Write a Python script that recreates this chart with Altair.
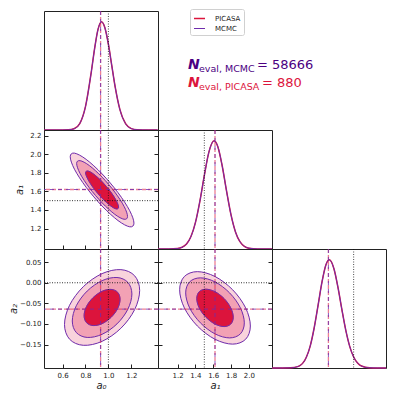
import altair as alt
import pandas as pd

# ---------------- colours ----------------
RED = "#DC143C"
PURPLE = "#6F2DAD"
INDIGO = "#4B0082"
FILL_OUTER = "#F9D3DC"
FILL_MID = "#F2A1B4"
FILL_INNER = "#DC143C"

# ---------------- axes ----------------
A0_DOM = [0.438, 1.433]
A1_DOM = [0.98, 2.26]
A2_DOM = [-0.207, 0.082]
D_DOM = [0, 1.1]

a0_ticks = [0.6, 0.8, 1.0, 1.2]
a1_ticks = [1.2, 1.4, 1.6, 1.8, 2.0]
a1_yticks = [1.2, 1.4, 1.6, 1.8, 2.0, 2.2]
a2_yticks = [-0.15, -0.10, -0.05, 0.0, 0.05]
a2_xticks = [-0.1, 0.0]

# true values (dotted) and estimates (dashed)
truth = [1.0, 1.5, 0.0]
est_picasa = [0.932, 1.62, -0.064]
est_mcmc = [0.932, 1.62, -0.064]

series = ["PICASA", "MCMC"]

# ---------------- 1D marginals ----------------
m0_x = [0.44, 0.55, 0.60, 0.65, 0.70, 0.75, 0.80, 0.85, 0.88, 0.91, 0.94, 0.97, 1.00, 1.03, 1.06, 1.10, 1.15, 1.20, 1.25, 1.30, 1.35, 1.43]
m0_y = [0.0, 0.0, 0.0001, 0.0014, 0.011, 0.0595, 0.216, 0.531, 0.755, 0.932, 1.0, 0.943, 0.793, 0.593, 0.394, 0.191, 0.058, 0.0127, 0.002, 0.0003, 0.0, 0.0]

m1_x = [0.98, 1.10, 1.20, 1.25, 1.30, 1.35, 1.40, 1.45, 1.50, 1.55, 1.61, 1.65, 1.70, 1.75, 1.80, 1.85, 1.90, 1.95, 2.00, 2.10, 2.26]
m1_y = [0.0, 0.0002, 0.0046, 0.0158, 0.046, 0.115, 0.244, 0.441, 0.679, 0.891, 1.0, 0.950, 0.772, 0.534, 0.315, 0.158, 0.068, 0.0247, 0.0077, 0.0005, 0.0]

m2_x = [-0.207, -0.18, -0.16, -0.14, -0.12, -0.11, -0.10, -0.09, -0.08, -0.07, -0.062, -0.05, -0.04, -0.03, -0.02, -0.01, 0.0, 0.01, 0.02, 0.04, 0.06, 0.082]
m2_y = [0.0, 0.0001, 0.0014, 0.0154, 0.099, 0.205, 0.372, 0.584, 0.80, 0.957, 1.0, 0.918, 0.75, 0.544, 0.35, 0.2, 0.102, 0.046, 0.018, 0.002, 0.0001, 0.0]

# ---------------- 2D contours (outer, mid, inner) ----------------
c01_outer_x = [1.223, 1.186, 1.084, 0.945, 0.806, 0.704, 0.667, 0.704, 0.806, 0.945, 1.084, 1.186]
c01_outer_y = [1.258, 1.392, 1.586, 1.788, 1.944, 2.011, 1.972, 1.838, 1.644, 1.442, 1.286, 1.219]
c01_mid_x = [1.167, 1.137, 1.056, 0.945, 0.834, 0.753, 0.723, 0.753, 0.834, 0.945, 1.056, 1.137]
c01_mid_y = [1.330, 1.438, 1.592, 1.753, 1.877, 1.930, 1.900, 1.792, 1.638, 1.477, 1.353, 1.300]
c01_inner_x = [1.089, 1.069, 1.017, 0.945, 0.873, 0.821, 0.801, 0.821, 0.873, 0.945, 1.017, 1.069]
c01_inner_y = [1.431, 1.500, 1.600, 1.704, 1.784, 1.819, 1.799, 1.730, 1.630, 1.526, 1.446, 1.411]

c02_outer_x = [1.273, 1.229, 1.109, 0.945, 0.781, 0.661, 0.617, 0.661, 0.781, 0.945, 1.109, 1.229]
c02_outer_y = [-0.0186, 0.0170, 0.0319, 0.0222, -0.0095, -0.0547, -0.1014, -0.137, -0.1519, -0.1422, -0.1105, -0.0653]
c02_mid_x = [1.205, 1.170, 1.075, 0.945, 0.815, 0.720, 0.685, 0.720, 0.815, 0.945, 1.075, 1.170]
c02_mid_y = [-0.0272, 0.0009, 0.0128, 0.0051, -0.0201, -0.0558, -0.0928, -0.1209, -0.1328, -0.1251, -0.0999, -0.0642]
c02_inner_x = [1.102, 1.081, 1.023, 0.945, 0.867, 0.809, 0.788, 0.809, 0.867, 0.945, 1.023, 1.081]
c02_inner_y = [-0.0402, -0.0232, -0.0161, -0.0207, -0.0359, -0.0575, -0.0798, -0.0968, -0.1039, -0.0993, -0.0841, -0.0625]

c12_outer_x = [2.017, 1.964, 1.818, 1.620, 1.422, 1.276, 1.223, 1.276, 1.422, 1.620, 1.818, 1.964]
c12_outer_y = [-0.105, -0.061, -0.017, 0.0152, 0.027, 0.0152, -0.017, -0.061, -0.105, -0.1372, -0.149, -0.1372]
c12_mid_x = [1.949, 1.905, 1.784, 1.620, 1.456, 1.335, 1.291, 1.335, 1.456, 1.620, 1.784, 1.905]
c12_mid_y = [-0.0974, -0.061, -0.0246, 0.0021, 0.0119, 0.0021, -0.0246, -0.061, -0.0974, -0.1241, -0.1339, -0.1241]
c12_inner_x = [1.825, 1.797, 1.722, 1.620, 1.518, 1.443, 1.415, 1.443, 1.518, 1.620, 1.722, 1.797]
c12_inner_y = [-0.0837, -0.061, -0.0383, -0.0217, -0.0156, -0.0217, -0.0383, -0.061, -0.0837, -0.1003, -0.1064, -0.1003]

# annotation text pieces
ann_n = ["N", "N"]
ann_sub = ["eval, MCMC", "eval, PICASA"]
ann_val = ["= 58666", "= 880"]
ann_col = [INDIGO, RED]

# ---------------- layout ----------------
W, H = 114, 119
FONT = "DejaVu Sans"
INK = "#222222"


def sc(dom):
    return alt.Scale(domain=dom, nice=False, zero=False)


def ax(orient, vals, fmt, labels=False, title=None, title_pad=2):
    kw = dict(orient=orient, values=vals, format=fmt, labels=labels, domain=False, grid=False,
              ticks=True, tickSize=4, tickColor=INK, tickWidth=1, offset=-4,
              labelFont=FONT, labelFontSize=7, labelColor=INK, labelPadding=3,
              titleFont=FONT, titleFontSize=10, titleFontStyle="italic", titleFontWeight="normal",
              titleColor=INK, titlePadding=title_pad, zindex=2)
    if title:
        kw["title"] = title
    else:
        kw["title"] = None
    return alt.Axis(**kw)


def est_rules(df, enc_x=None, enc_y=None):
    out = []
    for col, width, dash, op in [(RED, 1.3, [4, 2], 0.55), (PURPLE, 1.0, [4, 4], 0.8)]:
        ch = alt.Chart(df).mark_rule(color=col, strokeWidth=width, strokeDash=dash, opacity=op)
        if enc_x is not None:
            ch = ch.encode(x=enc_x)
        else:
            ch = ch.encode(y=enc_y)
        out.append(ch)
    return alt.layer(*out)


def vline(value, xdom, kind):
    df = pd.DataFrame({"v": [value]})
    xenc = alt.X("v:Q", scale=sc(xdom), axis=None)
    if kind == "truth":
        return alt.Chart(df).mark_rule(color="#111111", strokeWidth=1, strokeDash=[1, 1.5], opacity=0.75).encode(x=xenc)
    return est_rules(df, enc_x=xenc)


def hline(value, ydom, kind, axis=None):
    df = pd.DataFrame({"v": [value]})
    if kind == "truth":
        return alt.Chart(df).mark_rule(color="#111111", strokeWidth=1, strokeDash=[1, 1.5], opacity=0.85).encode(
            y=alt.Y("v:Q", scale=sc(ydom), axis=axis))
    return est_rules(df, enc_y=alt.Y("v:Q", scale=sc(ydom), axis=None))


def marginal(xs, ys, xdom, ticks, fmt, pidx, labels=False, title=None, legend=False):
    rows = []
    for s in series:
        for x, y in zip(xs, ys):
            rows.append({"x": x, "y": y, "series": s})
    df = pd.DataFrame(rows)
    xaxis = ax("bottom", ticks, fmt, labels=labels, title=title)
    if legend:
        lg = alt.Legend(title=None, orient="none", legendX=146, legendY=-2,
                        symbolType="stroke", symbolSize=121,
                        symbolStrokeWidth=alt.ExprRef(expr="datum.value === 'PICASA' ? 4 : 1"),
                        labelFont=FONT, labelFontSize=7, labelColor=INK,
                        labelOffset=9, padding=3, rowPadding=0.5,
                        strokeColor="#d0d0d0", fillColor="white", cornerRadius=2)
        color = alt.Color("series:N", scale=alt.Scale(domain=series, range=[RED, PURPLE]), legend=lg)
    else:
        color = alt.Color("series:N", scale=alt.Scale(domain=series, range=[RED, PURPLE]), legend=None)
    line = alt.Chart(df).mark_line(interpolate="monotone").encode(
        x=alt.X("x:Q", scale=sc(xdom), axis=xaxis),
        y=alt.Y("y:Q", scale=sc(D_DOM), axis=None),
        color=color,
        strokeWidth=alt.StrokeWidth("series:N", scale=alt.Scale(domain=series, range=[1.5, 1.0]), legend=None),
    )
    return [line, vline(truth[pidx], xdom, "truth"), vline(est_picasa[pidx], xdom, "est")]


def contour(cx, cy, xdom, ydom, pi, pj, xaxis, yaxis, rticks):
    levels = [(cx[0], cy[0], FILL_OUTER, "outer"), (cx[1], cy[1], FILL_MID, "mid"), (cx[2], cy[2], FILL_INNER, "inner")]
    layers = []
    all_rows = []
    for k, (xs, ys, col, name) in enumerate(levels):
        df = pd.DataFrame({"x": xs, "y": ys, "i": list(range(len(xs)))})
        all_rows.append(df.assign(level=name))
        layers.append(alt.Chart(df).mark_line(interpolate="cardinal-closed", fill=col, stroke=col,
                                              strokeWidth=0.6).encode(
            x=alt.X("x:Q", scale=sc(xdom), axis=xaxis if k == 0 else None),
            y=alt.Y("y:Q", scale=sc(ydom), axis=yaxis if k == 0 else None),
            order=alt.Order("i:Q"),
        ))
    dfl = pd.concat(all_rows)
    layers.append(alt.Chart(dfl).mark_line(interpolate="cardinal-closed", color=PURPLE, strokeWidth=1).encode(
        x=alt.X("x:Q", scale=sc(xdom), axis=None),
        y=alt.Y("y:Q", scale=sc(ydom), axis=None),
        detail="level:N",
        order=alt.Order("i:Q"),
    ))
    layers.append(vline(truth[pi], xdom, "truth"))
    layers.append(vline(est_picasa[pi], xdom, "est"))
    layers.append(hline(truth[pj], ydom, "truth", axis=ax("right", rticks, ".2f")))
    layers.append(hline(est_picasa[pj], ydom, "est"))
    return alt.layer(*layers).resolve_axis(x="independent", y="independent").properties(width=W, height=H)


# ---- top-left marginal with legend and annotation ----
m0_layers = marginal(m0_x, m0_y, A0_DOM, a0_ticks, ".1f", 0, legend=True)
ann_layers = []
for k in range(2):
    base_y = 58 + 18 * k
    d1 = pd.DataFrame({"t": [ann_n[k]]})
    d2 = pd.DataFrame({"t": [ann_sub[k]]})
    d3 = pd.DataFrame({"t": [ann_val[k]]})
    ann_layers.append(alt.Chart(d1).mark_text(font=FONT, fontSize=14, fontStyle="italic", fontWeight="bold",
                                              align="left", baseline="alphabetic", color=ann_col[k]).encode(
        text="t:N", x=alt.value(144), y=alt.value(base_y)))
    ann_layers.append(alt.Chart(d2).mark_text(font=FONT, fontSize=9.5, align="left", baseline="alphabetic",
                                              color=ann_col[k]).encode(
        text="t:N", x=alt.value(155), y=alt.value(base_y + 2.5)))
    ann_layers.append(alt.Chart(d3).mark_text(font=FONT, fontSize=13, align="left", baseline="alphabetic",
                                              color=ann_col[k]).encode(
        text="t:N", x=alt.value(213 if k == 0 else 218), y=alt.value(base_y)))
m0 = alt.layer(*m0_layers, *ann_layers).properties(width=W, height=H)

m1 = alt.layer(*marginal(m1_x, m1_y, A1_DOM, a1_ticks, ".1f", 1)).properties(width=W, height=H)
m2 = alt.layer(*marginal(m2_x, m2_y, A2_DOM, a2_xticks, ".1f", 2, labels=True, title="a₂")).properties(width=W, height=H)

c01 = contour([c01_outer_x, c01_mid_x, c01_inner_x], [c01_outer_y, c01_mid_y, c01_inner_y], A0_DOM, A1_DOM, 0, 1,
              ax("bottom", a0_ticks, ".1f"), ax("left", a1_yticks, ".1f", labels=True, title="a₁", title_pad=5),
              a1_yticks)
c02 = contour([c02_outer_x, c02_mid_x, c02_inner_x], [c02_outer_y, c02_mid_y, c02_inner_y], A0_DOM, A2_DOM, 0, 2,
              ax("bottom", a0_ticks, ".1f", labels=True, title="a₀"),
              ax("left", a2_yticks, ".2f", labels=True, title="a₂", title_pad=1), a2_yticks)
c12 = contour([c12_outer_x, c12_mid_x, c12_inner_x], [c12_outer_y, c12_mid_y, c12_inner_y], A1_DOM, A2_DOM, 1, 2,
              ax("bottom", a1_ticks, ".1f", labels=True, title="a₁"), ax("left", a2_yticks, ".2f"), a2_yticks)


def blank():
    return alt.Chart(pd.DataFrame({"t": [""]})).mark_text(fontSize=1).encode(
        text="t:N", x=alt.value(W / 2), y=alt.value(H / 2)
    ).properties(width=W, height=H, view=alt.ViewBackground(stroke="transparent"))


chart = alt.concat(m0, blank(), blank(), c01, m1, blank(), c02, c12, m2,
                   columns=3, spacing=0, bounds="flush").properties(
    padding={"left": 0, "top": 0, "right": 0, "bottom": 0}, background="white"
).configure_view(stroke=INK, strokeWidth=1)

chart.save("out.html", embed_options={"renderer": "svg", "actions": False})
